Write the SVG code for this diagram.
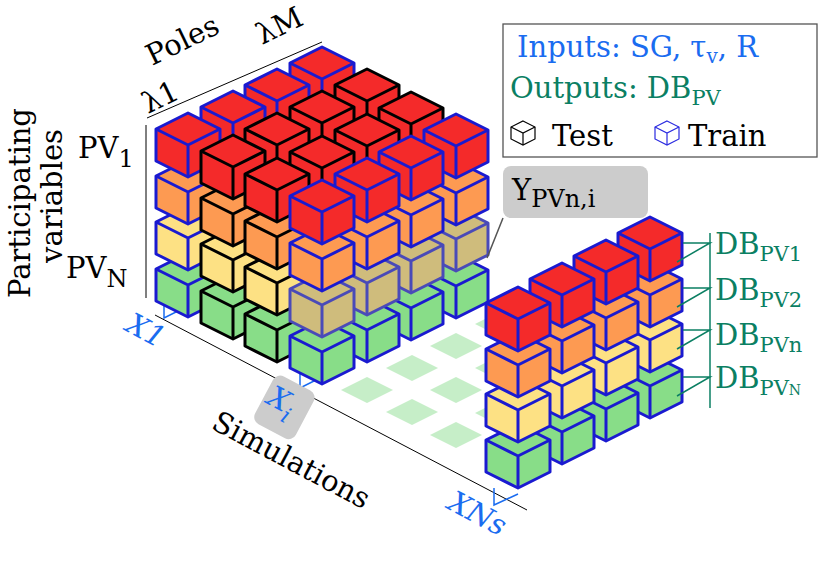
<svg xmlns="http://www.w3.org/2000/svg" xmlns:xlink="http://www.w3.org/1999/xlink" width="830" height="580" viewBox="0 0 830 580">
<style>
text{font-family:"DejaVu Serif","Liberation Serif",serif;font-size:29px}
.b{stroke:#1a1ad0}.k{stroke:#000}
.r{fill:#f42a2a}.o{fill:#fd9a52}.y{fill:#fde184}.g{fill:#88dd88}.ol{fill:#cfbc7c;stroke:#4a4ab8}
.cb{stroke-width:3;stroke-linejoin:round}
.fl{fill:#c6eec8}
.ax{stroke:#000;stroke-width:1;fill:none}
.bl{fill:#1a6cf0}.gr{fill:#0b7f63}
</style>
<defs>
<g id="c"><path d="M0,0 L32,16 L32,48 L0,64 L-32,48 L-32,16 Z"/><path d="M-32,16 L0,32 L32,16 M0,32 V64" fill="none"/></g>
<g id="ic" fill="#fff" stroke-width="1.2"><path d="M0,0 L12,6 L12,18 L0,24 L-12,18 L-12,6 Z"/><path d="M-12,6 L0,12 L12,6 M0,12 V24" fill="none"/></g>
</defs>
<g id="axes">
<line class="ax" x1="147" y1="118" x2="322" y2="42"/>
<line class="ax" x1="146" y1="125" x2="146" y2="298"/>
<line class="ax" x1="155" y1="315" x2="527" y2="510"/>
<path d="M164,298 V318 L190,305 M300,362 V388 L322,377 M494,488 V505 L518,494" stroke="#1a6cf0" stroke-width="1.5" fill="none"/>
</g>
<g id="floor">
<g class="fl">
<path d="M341,390 l26,-13 l26,13 l-26,13Z"/><path d="M386,368 l26,-13 l26,13 l-26,13Z"/><path d="M430,346 l26,-13 l26,13 l-26,13Z"/><path d="M475,324 l26,-13 l26,13 l-26,13Z"/>
<path d="M386,412 l26,-13 l26,13 l-26,13Z"/><path d="M430,390 l26,-13 l26,13 l-26,13Z"/><path d="M475,368 l26,-13 l26,13 l-26,13Z"/><path d="M520,346 l26,-13 l26,13 l-26,13Z"/>
<path d="M430,435 l26,-13 l26,13 l-26,13Z"/><path d="M475,413 l26,-13 l26,13 l-26,13Z"/><path d="M520,391 l26,-13 l26,13 l-26,13Z"/><path d="M564,369 l26,-13 l26,13 l-26,13Z"/>
</g>
</g>
<g id="mainblock" class="cb">
<use xlink:href="#c" class="g b" x="322" y="187"/><use xlink:href="#c" class="ol" x="322" y="140"/><use xlink:href="#c" class="o b" x="322" y="94"/><use xlink:href="#c" class="r b" x="322" y="47"/>
<use xlink:href="#c" class="g b" x="277" y="209"/><use xlink:href="#c" class="y b" x="277" y="162"/><use xlink:href="#c" class="o b" x="277" y="116"/><use xlink:href="#c" class="r b" x="277" y="69"/>
<use xlink:href="#c" class="g k" x="367" y="209"/><use xlink:href="#c" class="y k" x="367" y="162"/><use xlink:href="#c" class="o k" x="367" y="116"/><use xlink:href="#c" class="r k" x="367" y="69"/>
<use xlink:href="#c" class="g b" x="233" y="231"/><use xlink:href="#c" class="y b" x="233" y="184"/><use xlink:href="#c" class="o b" x="233" y="138"/><use xlink:href="#c" class="r b" x="233" y="91"/>
<use xlink:href="#c" class="g k" x="322" y="231"/><use xlink:href="#c" class="y k" x="322" y="184"/><use xlink:href="#c" class="o k" x="322" y="138"/><use xlink:href="#c" class="r k" x="322" y="91"/>
<use xlink:href="#c" class="g k" x="411" y="232"/><use xlink:href="#c" class="y k" x="411" y="185"/><use xlink:href="#c" class="o k" x="411" y="139"/><use xlink:href="#c" class="r k" x="411" y="92"/>
<use xlink:href="#c" class="g b" x="188" y="253"/><use xlink:href="#c" class="y b" x="188" y="206"/><use xlink:href="#c" class="o b" x="188" y="160"/><use xlink:href="#c" class="r b" x="188" y="113"/>
<use xlink:href="#c" class="g k" x="277" y="253"/><use xlink:href="#c" class="y k" x="277" y="206"/><use xlink:href="#c" class="o k" x="277" y="160"/><use xlink:href="#c" class="r k" x="277" y="113"/>
<use xlink:href="#c" class="g k" x="367" y="254"/><use xlink:href="#c" class="y k" x="367" y="207"/><use xlink:href="#c" class="o k" x="367" y="161"/><use xlink:href="#c" class="r k" x="367" y="114"/>
<use xlink:href="#c" class="g b" x="456" y="254"/><use xlink:href="#c" class="ol" x="456" y="207"/><use xlink:href="#c" class="o b" x="456" y="161"/><use xlink:href="#c" class="r b" x="456" y="114"/>
<use xlink:href="#c" class="g k" x="233" y="275"/><use xlink:href="#c" class="y k" x="233" y="228"/><use xlink:href="#c" class="o k" x="233" y="182"/><use xlink:href="#c" class="r k" x="233" y="135"/>
<use xlink:href="#c" class="g k" x="322" y="276"/><use xlink:href="#c" class="y k" x="322" y="229"/><use xlink:href="#c" class="o k" x="322" y="183"/><use xlink:href="#c" class="r k" x="322" y="136"/>
<use xlink:href="#c" class="g b" x="411" y="276"/><use xlink:href="#c" class="ol" x="411" y="229"/><use xlink:href="#c" class="o b" x="411" y="183"/><use xlink:href="#c" class="r b" x="411" y="136"/>
<use xlink:href="#c" class="g k" x="277" y="298"/><use xlink:href="#c" class="y k" x="277" y="251"/><use xlink:href="#c" class="o k" x="277" y="205"/><use xlink:href="#c" class="r k" x="277" y="158"/>
<use xlink:href="#c" class="g b" x="367" y="298"/><use xlink:href="#c" class="ol" x="367" y="251"/><use xlink:href="#c" class="o b" x="367" y="205"/><use xlink:href="#c" class="r b" x="367" y="158"/>
<use xlink:href="#c" class="g b" x="322" y="320"/><use xlink:href="#c" class="ol" x="322" y="273"/><use xlink:href="#c" class="o b" x="322" y="227"/><use xlink:href="#c" class="r b" x="322" y="180"/>
</g>
<g id="rightblock" class="cb">
<use xlink:href="#c" class="g b" x="650" y="354"/><use xlink:href="#c" class="y b" x="650" y="308"/><use xlink:href="#c" class="o b" x="650" y="263"/><use xlink:href="#c" class="r b" x="650" y="217"/>
<use xlink:href="#c" class="g b" x="606" y="377"/><use xlink:href="#c" class="y b" x="606" y="331"/><use xlink:href="#c" class="o b" x="606" y="286"/><use xlink:href="#c" class="r b" x="606" y="240"/>
<use xlink:href="#c" class="g b" x="562" y="400"/><use xlink:href="#c" class="y b" x="562" y="354"/><use xlink:href="#c" class="o b" x="562" y="309"/><use xlink:href="#c" class="r b" x="562" y="263"/>
<use xlink:href="#c" class="g b" x="518" y="424"/><use xlink:href="#c" class="y b" x="518" y="378"/><use xlink:href="#c" class="o b" x="518" y="333"/><use xlink:href="#c" class="r b" x="518" y="287"/>
</g>
<g id="db-connectors" stroke="#0b7f63" stroke-width="1.5" fill="none">
<line x1="710" y1="233" x2="710" y2="408"/>
<path d="M683,243 H710 L677,262 M683,288 H710 L677,307 M683,330 H710 L677,349 M683,377 H710 L677,396"/>
<line x1="503" y1="218" x2="487" y2="258" stroke="#555"/>
</g>
<g id="labels">
<text transform="translate(148,114) rotate(-26)">λ1</text>
<text transform="translate(152,66) rotate(-26)">Poles</text>
<text transform="translate(262,45) rotate(-26)">λM</text>
<text x="78" y="158">PV<tspan font-size="24" dy="9">1</tspan></text>
<text x="66" y="278">PV<tspan font-size="24" dy="9">N</tspan></text>
<text transform="translate(30,203) rotate(-90)" text-anchor="middle" font-size="31">Participating</text>
<text transform="translate(62,196) rotate(-90)" text-anchor="middle" font-size="31">variables</text>
<text class="bl" font-style="italic" transform="translate(124,330) rotate(28)">X1</text>
<g transform="translate(284,406) rotate(28)"><rect x="-22" y="-26" width="46" height="54" rx="8" fill="#cccccc"/><text class="bl" font-style="italic" x="-18" y="6">X<tspan font-size="22" dy="9">i</tspan></text></g>
<text transform="translate(210,428) rotate(28)" font-size="31">Simulations</text>
<text class="bl" font-style="italic" transform="translate(446,508) rotate(28)">XNs</text>
<rect x="503" y="166" width="145" height="52" rx="8" fill="#cccccc"/>
<text x="512" y="200">Y<tspan font-size="24" dy="7">PVn,i</tspan></text>
<text class="gr" font-size="27" x="715" y="254">DB<tspan font-size="21" dy="7">PV1</tspan></text>
<text class="gr" font-size="27" x="715" y="300">DB<tspan font-size="21" dy="7">PV2</tspan></text>
<text class="gr" font-size="27" x="715" y="345">DB<tspan font-size="21" dy="7">PVn</tspan></text>
<text class="gr" font-size="27" x="715" y="388">DB<tspan font-size="21" dy="7">PV</tspan><tspan font-size="14">N</tspan></text>
</g>
<g id="legend">
<rect x="503" y="24" width="314" height="133" fill="#fff" stroke="#555" stroke-width="1.3"/>
<text class="bl" font-size="26" x="517" y="57">Inputs: SG, τ<tspan font-size="20" dy="6">v</tspan><tspan dy="-6">, R</tspan></text>
<text class="gr" font-size="26" x="510" y="98">Outputs: DB<tspan font-size="21" dy="7">PV</tspan></text>
<use xlink:href="#ic" x="523" y="121" stroke="#000"/>
<use xlink:href="#ic" x="667" y="121" stroke="#2a2ae0"/>
<text font-size="27" x="552" y="146">Test</text>
<text font-size="27" x="688" y="146">Train</text>
</g>
</svg>
